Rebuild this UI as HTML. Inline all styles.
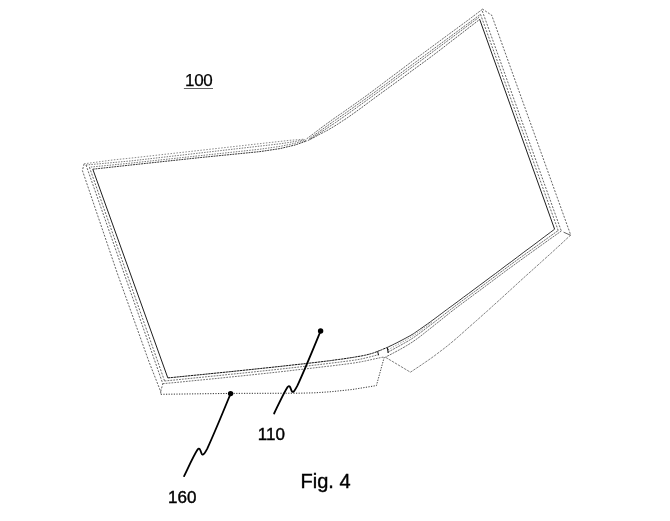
<!DOCTYPE html>
<html>
<head>
<meta charset="utf-8">
<title>Fig. 4</title>
<style>
html,body{margin:0;padding:0;background:#fff;}
body{width:670px;height:521px;overflow:hidden;position:relative;}
svg{position:absolute;left:0;top:0;display:block;}
text{font-family:"Liberation Sans",sans-serif;fill:#000;}
.s{fill:none;stroke:#111;stroke-width:0.95;stroke-linejoin:round;stroke-linecap:butt;}
.d{fill:none;stroke:#222;stroke-width:0.7;stroke-dasharray:2 1.4;stroke-linejoin:round;}
.t{fill:none;stroke:#333;stroke-width:0.6;stroke-linejoin:round;}
.r{fill:none;stroke:#222;stroke-width:0.68;stroke-dasharray:2 1;stroke-linejoin:round;}
.o{fill:none;stroke:#333;stroke-width:0.7;stroke-dasharray:1.2 1.6;stroke-linejoin:round;}
.l{fill:none;stroke:#000;stroke-width:1.8;stroke-linejoin:round;stroke-linecap:round;}
</style>
</head>
<body>
<svg width="670" height="521" viewBox="0 0 670 521">
<rect width="670" height="521" fill="#fff"/>
<g>
<path class="s" d="M92.8 169.2 L167.8 377.9"/>
<path class="d" d="M89.4 167.2 L164.6 381.0"/>
<path class="d" d="M86.0 165.0 L162.8 383.7"/>
<path class="d" d="M84.1 163.8 L82.4 170.5 L117.2 273.0 L149.0 361.8 L160.7 391.6 L160.8 394.3"/>
<path class="d" d="M160.7 391.6 L162.8 383.7"/>
<path class="d" style="stroke:#3a3a3a;stroke-width:0.6;stroke-dasharray:1.5 1.5" d="M84.1 163.8 L114.0 159.8 L130.0 158.2 L280.0 141.4 L290.0 140.3 L304.0 139.2"/>
<path class="d" style="stroke-width:0.62;stroke-dasharray:1.5 1.2" d="M86.0 165.0 L130.0 161.0 L280.0 143.8 L292.0 142.0 L305.0 139.7"/>
<path class="d" style="stroke-width:0.62;stroke-dasharray:1.5 1.2;stroke-dashoffset:1.3" d="M89.4 167.2 L130.0 163.2 L260.0 149.2 L280.0 146.4 L294.0 143.5 L306.0 140.2"/>
<path class="d" style="stroke:#111;stroke-width:0.85;stroke-dasharray:1.9 0.8" d="M92.8 169.2 L130.0 165.1 L200.0 157.6 L260.0 151.6 L280.0 148.6 L295.0 145.0 L307.0 140.8"/>
<path class="r" d="M306.7 138.8 L308.6 137.4 L311.2 135.4 L314.3 133.1 L317.5 130.6 L320.7 128.2 L323.4 126.2 L325.7 124.5 L327.9 122.9 L329.9 121.5 L331.9 120.0 L333.9 118.6 L335.9 117.2 L337.9 115.8 L339.7 114.5 L341.6 113.3 L343.6 111.9 L345.8 110.3 L348.4 108.5 L351.2 106.5 L354.1 104.5 L357.3 102.2 L360.8 99.7 L365.0 96.7 L370.0 93.0 L375.9 88.6 L382.7 83.5 L390.1 77.9 L397.9 72.1 L405.8 66.1 L413.6 60.3 L421.7 54.3 L430.4 47.9 L439.2 41.4 L447.7 35.1 L455.5 29.4 L462.0 24.6 L467.3 20.7 L471.7 17.4 L475.3 14.7 L478.3 12.4 L480.7 10.6 L482.6 9.2"/>
<path class="r" style="stroke-dashoffset:1.2" d="M309.0 138.9 L311.4 137.2 L314.9 134.7 L318.9 131.8 L323.0 128.9 L326.9 126.1 L330.0 123.9 L332.1 122.4 L333.4 121.5 L334.4 120.8 L335.6 120.0 L337.3 118.8 L340.0 116.9 L343.6 114.4 L347.6 111.6 L352.2 108.3 L357.4 104.6 L363.3 100.4 L370.0 95.6 L377.7 90.0 L386.5 83.6 L395.9 76.6 L405.7 69.4 L415.5 62.2 L425.0 55.2 L434.9 47.9 L445.5 40.1 L456.2 32.2 L466.1 24.9 L474.5 18.8 L480.5 14.3"/>
<path class="r" style="stroke-dashoffset:2.1" d="M309.0 140.0 L311.4 138.4 L314.9 136.2 L318.9 133.5 L323.0 130.8 L326.9 128.3 L330.0 126.2 L332.1 124.8 L333.4 124.0 L334.4 123.3 L335.6 122.5 L337.3 121.3 L340.0 119.4 L343.6 116.9 L347.6 114.1 L352.2 110.8 L357.4 107.1 L363.3 102.8 L370.0 98.0 L377.7 92.4 L386.5 85.9 L396.0 79.0 L405.8 71.8 L415.6 64.6 L425.0 57.6 L434.7 50.4 L445.2 42.6 L455.6 34.8 L465.3 27.5 L473.5 21.4 L479.4 17.0"/>
<path class="r" style="stroke:#222;stroke-width:0.75" d="M307.9 140.6 L309.1 139.9 L310.8 139.0 L312.9 138.0 L315.1 136.8 L317.2 135.7 L319.2 134.6 L321.0 133.6 L322.9 132.7 L324.7 131.7 L326.5 130.8 L328.3 129.8 L330.0 128.8 L331.7 127.8 L333.2 126.9 L334.7 126.0 L336.3 125.0 L338.1 123.9 L340.0 122.6 L342.1 121.2 L344.3 119.8 L346.6 118.3 L349.1 116.6 L351.9 114.6 L355.0 112.4 L358.3 110.0 L361.8 107.5 L365.5 104.7 L369.7 101.6 L374.4 98.1 L380.0 94.0 L386.8 89.1 L394.7 83.3 L403.3 77.1 L411.9 70.8 L420.0 64.9 L427.0 59.8 L432.8 55.5 L437.9 51.6 L442.4 48.2 L446.6 44.9 L450.7 41.7 L455.0 38.4 L459.6 34.9 L464.4 31.2 L469.1 27.5 L473.5 24.2 L477.1 21.4 L479.8 19.3"/>
<path class="s" d="M479.6 19.2 L554.6 229.2"/>
<path class="d" d="M480.5 14.3 L558.2 230.5"/>
<path class="d" d="M482.3 11.0 L561.3 231.0"/>
<path class="d" d="M482.3 9.0 L491.7 15.2 L570.7 235.0"/>
<path class="t" style="stroke:#222;stroke-width:0.7" d="M563.6 232.2 L570.7 235.3"/>
<path class="s" style="stroke-width:1.0;stroke:#111;stroke-dasharray:2.4 0.5" d="M167.8 377.9 L172.2 377.5 L178.1 376.9 L185.2 376.2 L193.1 375.4 L201.4 374.6 L210.0 373.7 L219.1 372.8 L229.1 371.8 L239.5 370.7 L250.1 369.6 L260.4 368.5 L270.0 367.5 L279.2 366.5 L288.3 365.5 L297.2 364.5 L305.6 363.6 L313.2 362.7 L320.0 361.9 L325.7 361.2 L330.6 360.6 L334.7 360.0 L338.3 359.5 L341.7 359.1 L345.0 358.6 L348.2 358.1 L351.0 357.7 L353.6 357.3 L355.9 356.9 L358.0 356.5 L360.0 356.2 L361.8 355.9 L363.2 355.6 L364.5 355.3 L365.7 355.1 L366.8 354.8 L368.0 354.5 L369.2 354.2 L370.2 353.9 L371.3 353.6 L372.3 353.3 L373.6 352.9 L375.0 352.4 L376.8 351.7 L379.0 350.8 L381.4 349.9 L383.6 348.9 L385.5 348.2 L386.9 347.6"/>
<path class="s" style="stroke-width:0.88;stroke:#1a1a1a" d="M386.9 347.6 L388.2 347.0 L390.0 346.1 L392.2 345.1 L394.5 343.9 L396.8 342.8 L398.9 341.7 L401.0 340.6 L403.1 339.5 L405.2 338.4 L407.2 337.3 L409.1 336.3 L410.8 335.3 L412.1 334.5 L413.1 334.0 L413.9 333.4 L414.7 332.9 L415.8 332.1 L417.4 331.0 L419.5 329.5 L422.0 327.8 L424.8 325.8 L427.7 323.8 L430.4 321.8 L432.9 320.0 L435.1 318.4 L437.2 316.8 L439.2 315.3 L441.2 313.8 L443.1 312.4 L444.9 311.0 L446.5 309.8 L447.7 309.0 L448.8 308.1 L450.2 307.1 L452.2 305.7 L455.0 303.6 L458.8 300.8 L463.4 297.3 L468.6 293.5 L474.1 289.4 L479.6 285.3 L485.0 281.3 L490.2 277.4 L495.5 273.5 L500.8 269.5 L506.2 265.4 L511.8 261.3 L517.5 257.0 L523.8 252.2 L530.9 247.0 L538.1 241.6 L544.8 236.5 L550.5 232.3 L554.6 229.2"/>
<path class="d" style="stroke:#222;stroke-width:0.65;stroke-dasharray:1.8 1.1" d="M164.6 381.0 L169.4 380.5 L175.8 379.9 L183.5 379.1 L192.1 378.2 L201.1 377.3 L210.0 376.4 L219.3 375.5 L229.3 374.4 L239.7 373.4 L250.2 372.3 L260.4 371.2 L270.0 370.2 L279.2 369.2 L288.3 368.2 L297.2 367.2 L305.6 366.2 L313.2 365.3 L320.0 364.5 L325.7 363.8 L330.6 363.2 L334.7 362.7 L338.3 362.3 L341.7 361.8 L345.0 361.4 L348.1 361.0 L350.7 360.7 L353.1 360.3 L355.4 360.0 L357.6 359.6 L360.0 359.2 L362.6 358.7 L365.4 358.0 L368.2 357.3 L370.8 356.7 L373.1 356.1 L375.0 355.6 L376.3 355.2 L377.3 355.0 L377.9 354.8 L378.4 354.6 L378.7 354.5 L379.0 354.4"/>
<path class="d" style="stroke:#222;stroke-width:0.65;stroke-dasharray:1.8 1.1" d="M162.8 383.7 L167.8 383.2 L174.6 382.6 L182.7 381.8 L191.6 380.9 L200.8 380.0 L210.0 379.1 L219.4 378.2 L229.4 377.1 L239.8 376.1 L250.3 375.0 L260.4 373.9 L270.0 372.9 L279.2 371.9 L288.3 370.9 L297.2 369.8 L305.6 368.9 L313.2 368.0 L320.0 367.2 L325.7 366.5 L330.6 366.0 L334.7 365.5 L338.3 365.0 L341.7 364.6 L345.0 364.2 L348.1 363.8 L350.7 363.4 L353.1 363.1 L355.4 362.8 L357.6 362.4 L360.0 362.0 L362.6 361.5 L365.2 361.0 L367.9 360.4 L370.4 359.8 L372.8 359.3 L375.0 358.8 L377.0 358.4 L378.9 358.0 L380.6 357.6 L382.1 357.3 L383.4 357.1 L384.3 356.9"/>
<path class="o" style="stroke:#111;stroke-width:0.85;stroke-dasharray:1.2 1.4" d="M160.8 394.3 L231.0 393.4 L300.0 393.2 L315.0 392.8 L331.3 391.7 L352.2 389.5 L376.4 385.6 L384.3 357.0"/>
<path class="t" style="stroke:#222;stroke-width:0.65;stroke-dasharray:2.2 0.8" d="M387.8 352.3 L389.7 351.2 L392.5 349.7 L395.7 347.9 L399.1 346.1 L402.3 344.3 L404.9 342.8 L406.9 341.7 L408.5 340.8 L409.9 339.9 L411.3 339.1 L412.9 338.0 L415.0 336.6 L417.5 334.8 L420.2 332.8 L423.2 330.6 L426.3 328.2 L429.6 325.7 L432.9 323.2 L436.2 320.6 L439.7 318.0 L443.2 315.3 L446.9 312.4 L450.8 309.4 L455.0 306.2 L459.5 302.8 L464.3 299.2 L469.4 295.5 L474.5 291.7 L479.8 287.8 L485.0 283.9 L490.2 280.0 L495.3 276.2 L500.6 272.2 L506.0 268.2 L511.6 264.0 L517.5 259.7 L524.3 254.8 L532.0 249.3 L539.9 243.6 L547.3 238.3 L553.7 233.7 L558.2 230.5"/>
<path class="t" style="stroke:#222;stroke-width:0.65;stroke-dasharray:2.2 0.8;stroke-dashoffset:1" d="M385.4 357.2 L387.2 356.2 L389.8 354.9 L392.8 353.3 L396.0 351.6 L399.2 349.9 L401.9 348.4 L404.2 347.1 L406.3 345.8 L408.4 344.6 L410.4 343.3 L412.6 341.9 L415.0 340.2 L417.7 338.3 L420.5 336.2 L423.4 333.9 L426.4 331.5 L429.6 329.0 L432.9 326.4 L436.2 323.7 L439.7 321.0 L443.2 318.1 L446.9 315.2 L450.8 312.0 L455.0 308.8 L459.5 305.4 L464.3 301.8 L469.4 298.1 L474.5 294.2 L479.8 290.4 L485.0 286.5 L490.1 282.7 L495.2 278.9 L500.4 275.0 L505.7 271.0 L511.4 266.9 L517.5 262.4 L524.7 257.2 L532.9 251.3 L541.4 245.2 L549.5 239.4 L556.4 234.5 L561.3 231.0"/>
<path class="o" style="stroke-width:0.6" d="M388.0 349.8 L404.9 340.6 L415.0 334.6 L432.9 321.6"/>
<path class="t" style="stroke:#2a2a2a;stroke-width:0.6;stroke-dasharray:2.6 1.0" d="M570.7 235.0 L568.9 236.7 L566.5 238.9 L563.6 241.6 L560.5 244.6 L557.1 247.6 L553.8 250.7 L550.6 253.6 L547.4 256.5 L544.0 259.5 L540.4 262.8 L536.3 266.5 L531.5 270.8 L525.7 276.0 L519.0 282.1 L511.8 288.7 L504.7 295.2 L498.0 301.3 L492.2 306.5 L487.5 310.8 L483.4 314.4 L479.9 317.6 L476.6 320.5 L473.3 323.4 L470.0 326.3 L466.6 329.3 L463.4 332.2 L460.2 335.0 L457.1 337.8 L453.9 340.5 L450.7 343.2 L447.5 345.8 L444.2 348.4 L440.9 350.9 L437.6 353.4 L434.3 355.9 L431.0 358.3 L427.4 360.8 L423.4 363.5 L419.5 366.2 L415.8 368.6 L412.7 370.7 L410.4 372.2 L385.4 357.2"/>
<path class="t" style="stroke:#111;stroke-width:1" d="M377.6 351.4 L378.6 355.3"/>
<path class="t" style="stroke:#111;stroke-width:1.1" d="M387.4 347.8 L388.2 353.0"/>
</g>
<g>
<g transform="translate(90 -62.6)">
<circle cx="230.6" cy="393.6" r="2.7" fill="#000"/>
<path class="l" d="M230.6 393.6 C226.6 403.3 216 429.5 207.4 448.3 C204.6 453.6 202.8 456.3 201.5 453.3 C200.5 450.2 199.6 447 197.6 449.6 C194 455 189 466 184.1 476.1"/>
</g>
<circle cx="230.6" cy="393.6" r="2.7" fill="#000"/>
<path class="l" d="M230.6 393.6 C226.6 403.3 216 429.5 207.4 448.3 C204.6 453.6 202.8 456.3 201.5 453.3 C200.5 450.2 199.6 447 197.6 449.6 C194 455 189 466 184.1 476.1"/>
</g>
<g style="filter:grayscale(1)">
<text x="185.1" y="85.5" font-size="17" letter-spacing="-0.35" stroke="#000" stroke-width="0.25">100</text>
<path d="M183.9 88.5 H213" stroke="#3a3a3a" stroke-width="0.8" fill="none"/>
<text x="257.8" y="439.5" font-size="17" stroke="#000" stroke-width="0.4">110</text>
<text x="168.1" y="502.7" font-size="17" stroke="#000" stroke-width="0.4">160</text>
<text x="300.5" y="487.8" font-size="20" stroke="#000" stroke-width="0.4">Fig. 4</text>
</g>
</svg>
</body>
</html>
